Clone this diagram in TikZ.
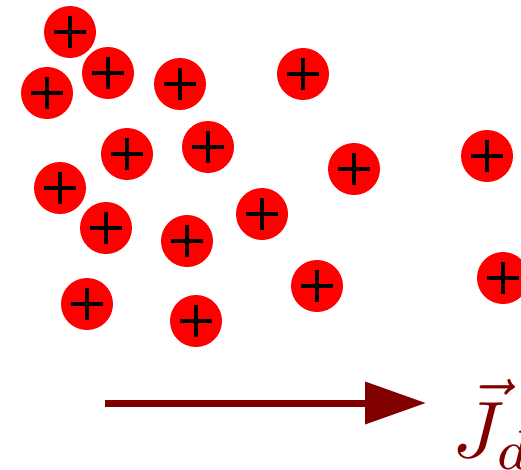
\documentclass[tikz,border=0pt]{standalone}
\usepackage{tikz}
\usetikzlibrary{arrows.meta}
\colorlet{ionred}{red}
\colorlet{flow}{red!50!black}

\begin{document}
\begin{tikzpicture}[
  x=1pt, y=-1pt,
  ion/.style={circle, fill=ionred, inner sep=0pt, minimum size=52pt,
              path picture={
                \draw[line width=4pt] ([xshift=-16pt]path picture bounding box.center)
                  -- ([xshift=16pt]path picture bounding box.center);
                \draw[line width=4pt] ([yshift=-16pt]path picture bounding box.center)
                  -- ([yshift=16pt]path picture bounding box.center);}},
  ar/.style={flow, line width=7pt, -{Triangle[length=61pt, width=41pt]}},
  lbl/.style={flow, inner sep=0pt, anchor=base west}]
\useasboundingbox (0,0) rectangle (521,469);
% positive charges
\foreach \px/\py [count=\i] in {70/32, 108/73, 47/93, 180/84, 303/74, 127/154,
    208/147, 60/188, 354/169, 487/156, 262/214, 106/228, 187/241, 87/304,
    196/321, 317/286, 503/278}{
  \node[ion] (p\i) at (\px,\py) {};
}
% drift current
\coordinate (jstart) at (105,403);
\coordinate (jend) at (426,403);
\draw[ar] (jstart) -- (jend);
\node[lbl] (jd) at (452,457) {\scalebox{8}{$\vec{J}_d$}};
\end{tikzpicture}
\end{document}
